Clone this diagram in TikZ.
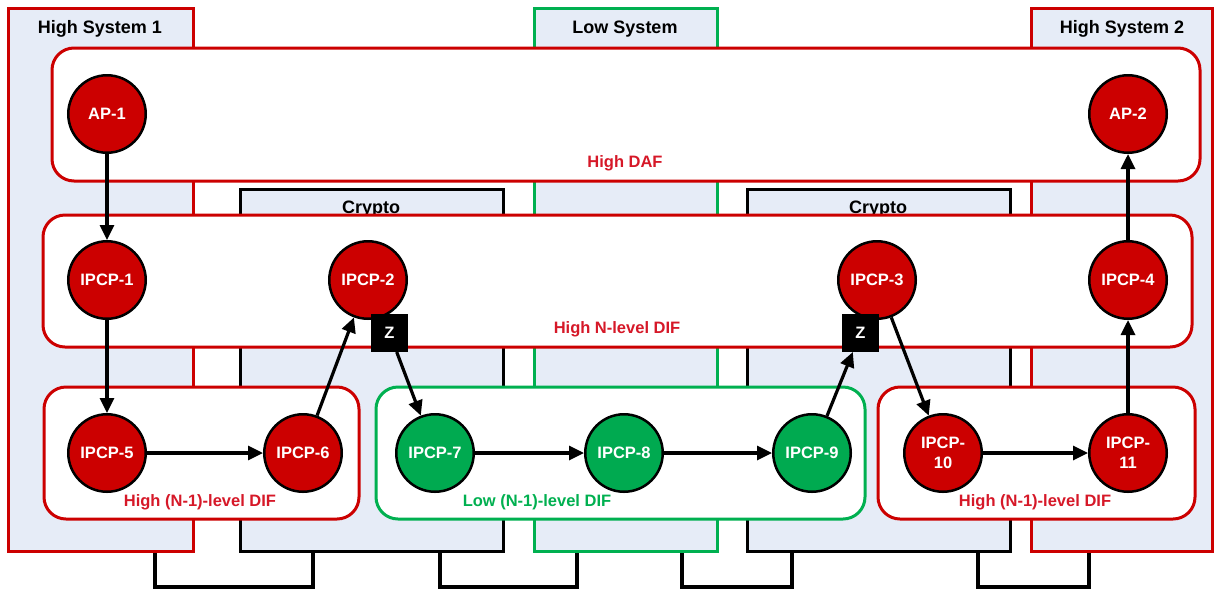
\documentclass[tikz,border=0pt]{standalone}
\usepackage{fontspec}
\setmainfont{Liberation Sans}
\usetikzlibrary{arrows.meta}
\definecolor{hred}{RGB}{204,0,0}
\definecolor{hgreen}{RGB}{0,170,80}
\definecolor{lgreen}{RGB}{0,176,80}
\definecolor{sysfill}{RGB}{230,236,247}
\definecolor{lblred}{RGB}{214,24,40}
\newcommand{\lblfont}{\bfseries\fontsize{16.5}{20}\selectfont}
\newcommand{\ttlfont}{\bfseries\fontsize{18}{21}\selectfont}
\tikzset{
  sysbox/.style={rectangle, draw=hred, fill=sysfill, line width=3pt, inner sep=0pt},
  lowsys/.style={sysbox, draw=lgreen},
  cryptobox/.style={sysbox, draw=black},
  difbox/.style={rectangle, rounded corners=22pt, draw=hred, fill=white, line width=3pt, inner sep=0pt},
  lowdif/.style={difbox, draw=lgreen},
  ttl/.style={font=\ttlfont, text=black, inner sep=0pt},
  redlbl/.style={font=\lblfont, text=lblred, inner sep=0pt},
  grnlbl/.style={font=\lblfont, text=lgreen, inner sep=0pt},
  proc/.style={circle, draw=black, line width=2.5pt, minimum size=77.5pt, inner sep=0pt, text=white, font=\lblfont, align=center},
  redp/.style={proc, fill=hred},
  grnp/.style={proc, fill=hgreen},
  zbox/.style={rectangle, fill=black, draw=black, line width=1pt, minimum width=36pt, minimum height=37pt, inner sep=0pt, text=white, font=\lblfont},
  flow/.style={line width=3.2pt, draw=black, -{Triangle[length=15pt,width=14pt]}},
  wire/.style={line width=3.5pt, draw=black, line join=miter}
}
\begin{document}
\begin{tikzpicture}[x=1pt,y=-1pt]
\useasboundingbox (0,0) rectangle (1214,590);
\fill[white] (0,0) rectangle (1214,590);
% systems
\node[sysbox, minimum width=185pt, minimum height=543pt] (hs1) at (100.5,279.5) {};
\node[lowsys, minimum width=183pt, minimum height=543pt] (lows) at (625.5,279.5) {};
\node[sysbox, minimum width=181pt, minimum height=543pt] (hs2) at (1121.5,279.5) {};
\node[cryptobox, minimum width=263pt, minimum height=362pt] (cr1) at (371.5,370) {};
\node[cryptobox, minimum width=263pt, minimum height=362pt] (cr2) at (878.5,370) {};
\node[ttl] (hs1t) at (100,29) {High System 1};
\node[ttl] (lowt) at (625,29) {Low System};
\node[ttl] (hs2t) at (1122,29) {High System 2};
\node[ttl] (cr1t) at (371,209) {Crypto};
\node[ttl] (cr2t) at (878,209) {Crypto};
% DIF boxes
\node[difbox, minimum width=1148pt, minimum height=133pt] (daf) at (626,114.5) {};
\node[difbox, minimum width=1149pt, minimum height=132pt] (ndif) at (617.5,281) {};
\node[difbox, minimum width=315pt, minimum height=132pt] (ldif1) at (201.5,453) {};
\node[lowdif, minimum width=489pt, minimum height=132pt] (ldif2) at (620.5,453) {};
\node[difbox, minimum width=317pt, minimum height=132pt] (ldif3) at (1036.5,453) {};
\node[redlbl] (daft) at (625,163) {High DAF};
\node[redlbl] (ndift) at (617,329) {High N-level DIF};
\node[redlbl] (l1t) at (200,502) {High (N-1)-level DIF};
\node[grnlbl] (l2t) at (537,502) {Low (N-1)-level DIF};
\node[redlbl] (l3t) at (1035,502) {High (N-1)-level DIF};
% processes
\node[redp] (ap1) at (107,114) {AP-1};
\node[redp] (ap2) at (1128,114) {AP-2};
\node[redp] (p1) at (107,280) {IPCP-1};
\node[redp] (p2) at (368,280) {IPCP-2};
\node[redp] (p3) at (877,280) {IPCP-3};
\node[redp] (p4) at (1128,280) {IPCP-4};
\node[redp] (p5) at (107,453) {IPCP-5};
\node[redp] (p6) at (303,453) {IPCP-6};
\node[grnp] (p7) at (435,453) {IPCP-7};
\node[grnp] (p8) at (624,453) {IPCP-8};
\node[grnp] (p9) at (812,453) {IPCP-9};
\node[redp] (p10) at (943,453) {IPCP-\\10};
\node[redp] (p11) at (1128,453) {IPCP-\\11};
\node[zbox] (z1) at (389.5,333) {Z};
\node[zbox] (z2) at (860.5,333) {Z};
% flows
\draw[flow] (ap1) -- (p1);
\draw[flow] (p1) -- (p5);
\draw[flow] (p5) -- (p6);
\draw[flow] (p6) -- (p2);
\draw[flow] (z1) -- (p7);
\draw[flow] (p7) -- (p8);
\draw[flow] (p8) -- (p9);
\draw[flow] (p9) -- (z2);
\draw[flow] (p3) -- (p10);
\draw[flow] (p10) -- (p11);
\draw[flow] (p11) -- (p4);
\draw[flow] (p4) -- (ap2);
% bottom wires
\coordinate (w1a) at (155,553);
\coordinate (w1b) at (313,551);
\coordinate (w2a) at (440,551);
\coordinate (w2b) at (577,553);
\coordinate (w3a) at (682,553);
\coordinate (w3b) at (792,551);
\coordinate (w4a) at (978,551);
\coordinate (w4b) at (1089,553);
\draw[wire] (w1a) -- ++(0,34) -| (w1b);
\draw[wire] (w2a) -- ++(0,36) -| (w2b);
\draw[wire] (w3a) -- ++(0,34) -| (w3b);
\draw[wire] (w4a) -- ++(0,36) -| (w4b);
\end{tikzpicture}
\end{document}
